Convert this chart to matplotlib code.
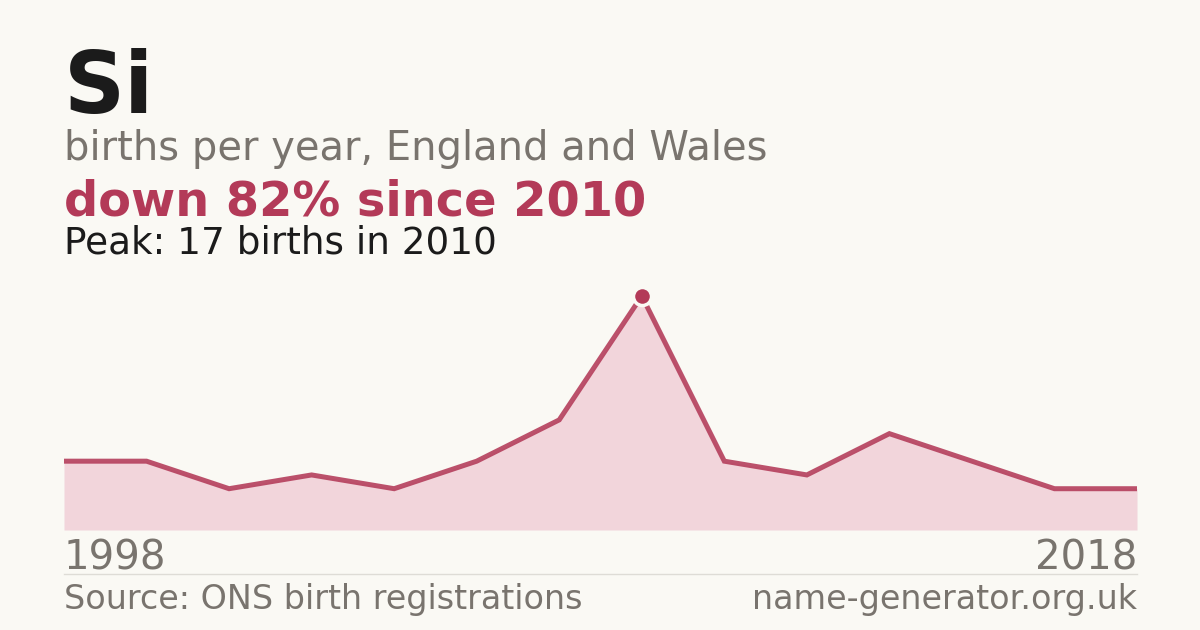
import matplotlib
matplotlib.use("Agg")
import matplotlib.pyplot as plt
import numpy as np

# Births per year for the name "Si"
births = [5, 5, 3, 4, 3, 5, 8, 17, 5, 4, 7, 5, 3, 3]
first_year = "1998"
last_year = "2018"
peak_index = 7

BG = "#faf9f4"
RED = "#b33a58"
FILL = "#f2d5db"
GRAY = "#79746e"
DARK = "#1b1b1b"

W, H = 1200, 630
fig = plt.figure(figsize=(12, 6.3), dpi=100, facecolor=BG)
plt.rcParams['font.family'] = ['DejaVu Sans']


def fy(px):
    return 1 - px / H


# Header texts
fig.text(64 / W, fy(113), "Si", fontsize=61, fontweight='bold', color=DARK, va='baseline')
fig.text(64 / W, fy(160), "births per year, England and Wales", fontsize=28.8, color=GRAY, va='baseline')
fig.text(64 / W, fy(215), "down 82% since 2010", fontsize=34.5, fontweight='bold', color=RED, va='baseline')
fig.text(64 / W, fy(253), "Peak: 17 births in 2010", fontsize=26.9, color=DARK, va='baseline')

# Chart area
ax = fig.add_axes([64 / W, fy(530), (1137 - 64) / W, (530 - 296) / H])
ax.set_facecolor(BG)
x = np.arange(len(births))
ax.fill_between(x, births, 0, color=FILL, lw=0)
ax.plot(x, births, color=RED, lw=3.6, alpha=0.88, solid_joinstyle='miter')
ax.plot(x[peak_index], births[peak_index], 'o', ms=13, color=RED,
        markeredgecolor=BG, markeredgewidth=2.5, clip_on=False, zorder=5)
ax.set_xlim(0, len(births) - 1)
ax.set_ylim(0, max(births))
ax.axis('off')

# Year labels
fig.text(64 / W, fy(570), first_year, fontsize=29, color=GRAY, va='baseline', ha='left')
fig.text(1137 / W, fy(570), last_year, fontsize=29, color=GRAY, va='baseline', ha='right')

# Separator
fig.add_artist(plt.Line2D([64 / W, 1137 / W], [fy(574), fy(574)], color="#dedcd6", lw=1))

# Footer
fig.text(64 / W, fy(609), "Source: ONS birth registrations", fontsize=24, color=GRAY, va='baseline')
fig.text(1137 / W, fy(609), "name-generator.org.uk", fontsize=24, color=GRAY, va='baseline', ha='right')

fig.savefig("out.png", dpi=100, facecolor=BG)
